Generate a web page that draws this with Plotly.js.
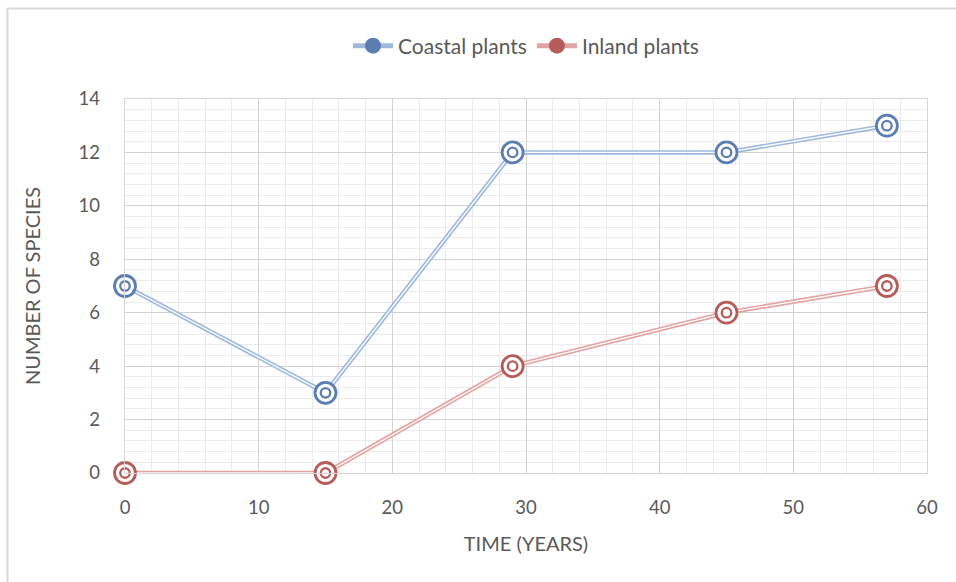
<!DOCTYPE html>
<html>
<head>
<meta charset="utf-8">
<script src="https://cdn.plot.ly/plotly-3.0.1.min.js"></script>
<style>
  html, body { margin: 0; padding: 0; background: #ffffff; }
  #chart { width: 956px; height: 582px; }
</style>
</head>
<body>
<div id="chart"></div>
<script>
// ---- data ----
const timeYears = [0, 15, 29, 45, 57];
const coastalPlants = [7, 3, 12, 12, 13];
const inlandPlants = [0, 0, 4, 6, 7];
const seriesNames = ["Coastal plants", "Inland plants"];
const xTickVals = [0, 10, 20, 30, 40, 50, 60];
const yTickVals = [0, 2, 4, 6, 8, 10, 12, 14];

// ---- styles ----
const FONT = "Lato, 'Open Sans', sans-serif";
const TEXT = "#595959";
const styles = [
  { light: "#9fb8de", dark: "#5b7db3" },
  { light: "#e3a3a2", dark: "#b55d5b" }
];

function seriesTraces(x, y, st, name) {
  return [
    { x: x, y: y, mode: "lines", type: "scatter", showlegend: false, hoverinfo: "skip",
      line: { color: st.light, width: 4.6 }, cliponaxis: false },
    { x: x, y: y, mode: "lines", type: "scatter", showlegend: false, hoverinfo: "skip",
      line: { color: "#ffffff", width: 1.3 }, cliponaxis: false },
    { x: x, y: y, mode: "markers", type: "scatter", showlegend: false, name: name,
      marker: { symbol: "circle", size: 21, color: "#ffffff", line: { color: st.dark, width: 2.8 } },
      cliponaxis: false },
    { x: x, y: y, mode: "markers", type: "scatter", showlegend: false, hoverinfo: "skip",
      marker: { symbol: "circle", size: 9.5, color: "#ffffff", line: { color: st.dark, width: 2.3 } },
      cliponaxis: false },
    { x: [null], y: [null], mode: "lines+markers", type: "scatter", name: name, showlegend: true,
      line: { color: st.light, width: 5 },
      marker: { symbol: "circle", size: 17, color: st.dark, line: { width: 0 } } }
  ];
}

const data = []
  .concat(seriesTraces(timeYears, coastalPlants, styles[0], seriesNames[0]))
  .concat(seriesTraces(timeYears, inlandPlants, styles[1], seriesNames[1]));

const L = 125, R = 927, T = 99, B = 473;
const W = R - L, H = B - T;
const px2x = p => (p - L) / W;
const py2y = p => (B - p) / H;

const layout = {
  width: 956, height: 582,
  margin: { l: L, r: 956 - R, t: T, b: 582 - B, pad: 0 },
  paper_bgcolor: "#ffffff", plot_bgcolor: "#ffffff",
  font: { family: FONT, color: TEXT, size: 18 },
  showlegend: true,
  legend: { orientation: "h", x: 0.5, xanchor: "center", y: py2y(46), yanchor: "middle",
            font: { family: FONT, size: 21, color: TEXT }, itemwidth: 40, tracegroupgap: 0 },
  xaxis: {
    range: [0, 60], tickvals: xTickVals, ticktext: xTickVals.map(String),
    showgrid: true, gridcolor: "#d2d2d2", gridwidth: 1, zeroline: false,
    showline: true, linecolor: "#d6d6d6", linewidth: 1.3, mirror: true,
    ticks: "", ticklabelstandoff: 17,
    tickfont: { family: FONT, size: 18.5, color: TEXT },
    minor: { dtick: 2, showgrid: true, gridcolor: "#ebebeb", gridwidth: 1, ticks: "" },
    title: { text: "TIME (YEARS)", font: { family: FONT, size: 20, color: TEXT }, standoff: 20 },
    fixedrange: true
  },
  yaxis: {
    range: [0, 14], tickvals: yTickVals, ticktext: yTickVals.map(String),
    showgrid: true, gridcolor: "#d2d2d2", gridwidth: 1, zeroline: false,
    showline: true, linecolor: "#d6d6d6", linewidth: 1.3, mirror: true,
    ticks: "", ticklabelstandoff: 20,
    tickfont: { family: FONT, size: 18.5, color: TEXT },
    minor: { dtick: 0.4, showgrid: true, gridcolor: "#ebebeb", gridwidth: 1, ticks: "" },
    title: { text: "NUMBER OF SPECIES", font: { family: FONT, size: 20, color: TEXT }, standoff: 32 },
    fixedrange: true
  },
  shapes: [
    { type: "line", xref: "paper", yref: "paper", x0: px2x(7), x1: px2x(970), y0: py2y(8.5), y1: py2y(8.5),
      line: { color: "#d9d9d9", width: 2 } },
    { type: "line", xref: "paper", yref: "paper", x0: px2x(7.5), x1: px2x(7.5), y0: py2y(8), y1: py2y(600),
      line: { color: "#d9d9d9", width: 2 } }
  ]
};

Plotly.newPlot("chart", data, layout, { displayModeBar: false, staticPlot: true });
</script>
</body>
</html>
